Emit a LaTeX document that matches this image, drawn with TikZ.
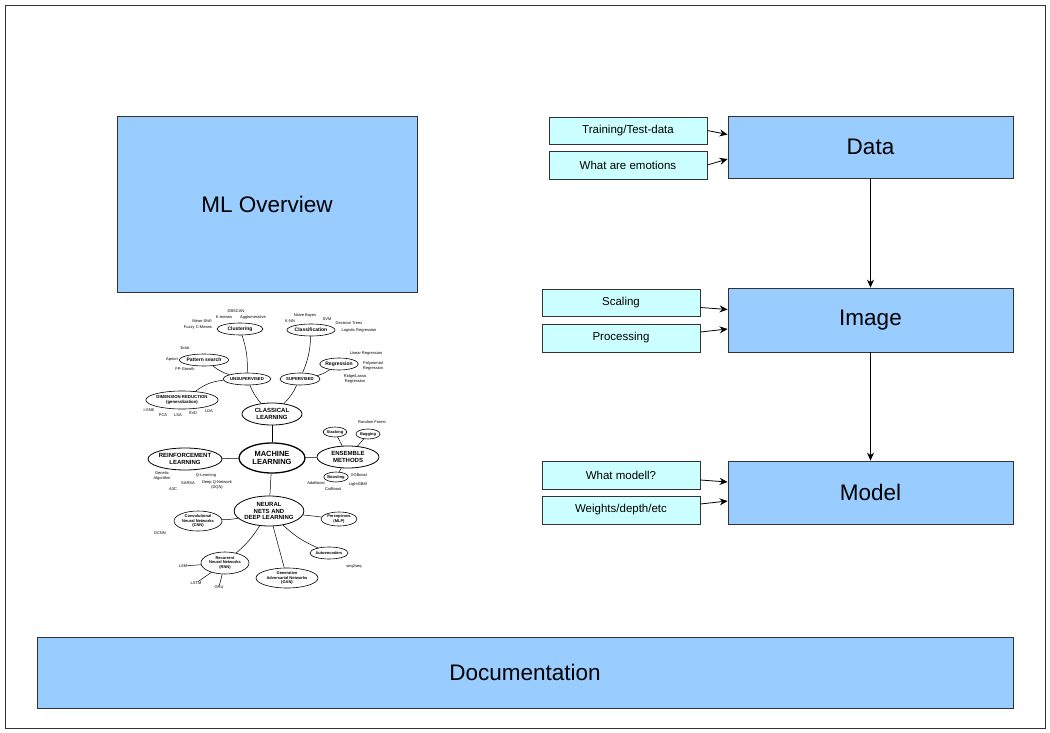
\documentclass[tikz,border=0pt]{standalone}
\usepackage{fontspec}
\setmainfont{Liberation Sans}
\newfontfamily\mmfont{Liberation Sans}
\usetikzlibrary{shapes.geometric,arrows.meta}
\definecolor{bigblue}{HTML}{99CCFF}
\definecolor{smallcyan}{HTML}{CCFFFF}
\definecolor{edgegray}{HTML}{333333}
\tikzset{
  bigbox/.style={draw=edgegray, fill=bigblue, line width=0.8pt, inner sep=0, font=\fontsize{22.5}{26}\selectfont},
  smallbox/.style={draw=edgegray, fill=smallcyan, line width=0.8pt, inner sep=0, font=\fontsize{11.5}{13}\selectfont},
  arr/.style={-{Stealth[length=8pt,width=7pt]}, line width=0.8pt, draw=black},
  mm/.style={draw=black, ellipse, inner sep=0, line width=0.6pt, align=center, font=\mmfont\bfseries\fontsize{5}{5.4}\selectfont},
  mmbig/.style={mm, line width=0.8pt, font=\mmfont\bfseries\fontsize{7.5}{8}\selectfont},
  mmmid/.style={mm, line width=0.8pt, font=\mmfont\bfseries\fontsize{6}{6.4}\selectfont},
  mmsm/.style={mm, font=\mmfont\bfseries\fontsize{4}{4.4}\selectfont},
  mmtight/.style={mm, font=\mmfont\bfseries\fontsize{4.3}{4.6}\selectfont},
  lbl/.style={inner sep=0, align=center, font=\mmfont\fontsize{4}{4.3}\selectfont},
  ml/.style={line width=0.5pt}
}
\begin{document}
\begin{tikzpicture}[x=1pt,y=-1pt]
\useasboundingbox (0,0) rectangle (1050,733);
\node[draw=edgegray, line width=0.6pt, minimum width=1040, minimum height=723, inner sep=0] (frame) at (525,366.5) {};

% right column
\node[bigbox, minimum width=285, minimum height=62] (data) at (870.5,147) {Data};
\node[smallbox, minimum width=158, minimum height=27] (train) at (628,130.5) {Training/Test-data};
\node[smallbox, minimum width=158, minimum height=28] (emo) at (628,165) {What are emotions};
\node[bigbox, minimum width=285, minimum height=64] (image) at (870.5,320) {Image};
\node[smallbox, minimum width=158, minimum height=27] (scal) at (621,302.5) {Scaling};
\node[smallbox, minimum width=158, minimum height=28] (proc) at (621,338) {Processing};
\node[bigbox, minimum width=285, minimum height=63] (model) at (870.5,492.5) {Model};
\node[smallbox, minimum width=158, minimum height=28] (what) at (621,475) {What modell?};
\node[smallbox, minimum width=158, minimum height=28] (wts) at (621,510) {Weights/depth/etc};

\draw[arr] (train.east) -- ([yshift=-4pt]data.west |- train.east);
\draw[arr] (emo.east) -- ([yshift=6pt]data.west |- emo.east);
\draw[arr] ([yshift=-5pt]scal.east) -- ([yshift=-7pt]image.west |- scal.east);
\draw[arr] ([yshift=6pt]proc.east) -- ([yshift=9pt]image.west |- proc.east);
\draw[arr] ([yshift=-5pt]what.east) -- ([yshift=-7pt]model.west |- what.east);
\draw[arr] ([yshift=6pt]wts.east) -- ([yshift=9pt]model.west |- wts.east);
\draw[arr] (data.south) -- (image.north);
\draw[arr] (image.south) -- (model.north);

% left
\node[bigbox, minimum width=300, minimum height=176] (mlo) at (267,204) {ML Overview};
\node[bigbox, minimum width=976, minimum height=71] (doc) at (525,672.5) {Documentation};

% mind map
\node[mmbig, line width=1.3pt, minimum width=66, minimum height=30] (ml) at (272,458) {MACHINE\\LEARNING};
\node[mmmid, minimum width=60, minimum height=22] (cl) at (272,414) {CLASSICAL\\LEARNING};
\node[mmtight, minimum width=42, minimum height=12] (uns) at (247,379) {UNSUPERVISED};
\node[mmtight, minimum width=40, minimum height=12] (sup) at (300,379) {SUPERVISED};
\node[mm, minimum width=46, minimum height=12] (clu) at (240,329) {Clustering};
\node[mm, minimum width=44, minimum height=12] (pat) at (204,360) {Pattern search};
\node[mmtight, minimum width=72, minimum height=18] (dim) at (182,400) {DIMENSION REDUCTION\\(generalization)};
\node[mm, minimum width=48, minimum height=12] (cla) at (311,330) {Classification};
\node[mm, minimum width=38, minimum height=12] (reg) at (339,364) {Regression};
\node[mmmid, minimum width=70, minimum height=22] (rl) at (185,459) {REINFORCEMENT\\LEARNING};
\node[mmmid, minimum width=62, minimum height=22] (ens) at (348,457) {ENSEMBLE\\METHODS};
\node[mmsm, minimum width=22, minimum height=10] (stk) at (335,432) {Stacking};
\node[mmsm, minimum width=24, minimum height=10] (bag) at (368,434) {Bagging};
\node[mmsm, minimum width=24, minimum height=10] (boo) at (336,477) {Boosting};
\node[mmmid, minimum width=62, minimum height=30] (nn) at (269,511) {NEURAL\\NETS AND\\DEEP LEARNING};
\node[mmsm, minimum width=48, minimum height=20] (cnn) at (198,521) {Convolutional\\Neural Networks\\(CNN)};
\node[mmsm, minimum width=36, minimum height=14] (mlp) at (339,519) {Perceptrons\\(MLP)};
\node[mmsm, minimum width=48, minimum height=22] (rnn) at (225,563) {Recurrent\\Neural Networks\\(RNN)};
\node[mmsm, minimum width=38, minimum height=12] (aut) at (329,553) {Autoencoders};
\node[mmsm, minimum width=62, minimum height=20] (gan) at (287,578) {Generative\\Adversarial Networks\\(GAN)};

% labels
\node[lbl] (l1) at (236,311) {DBSCAN};
\node[lbl] (l2) at (224,317) {K-means};
\node[lbl] (l3) at (253,317) {Agglomerative};
\node[lbl] (l4) at (202,321) {Mean-Shift};
\node[lbl] (l5) at (198,328) {Fuzzy C-Means};
\node[lbl] (l6) at (185,348) {Eclat};
\node[lbl] (l7) at (172,359) {Apriori};
\node[lbl] (l8) at (185,369) {FP-Growth};
\node[lbl] (l9) at (149,410) {t-SNE};
\node[lbl] (l10) at (163,415) {PCA};
\node[lbl] (l11) at (178,415) {LSA};
\node[lbl] (l12) at (193,413) {SVD};
\node[lbl] (l13) at (209,411) {LDA};
\node[lbl] (l14) at (305,315) {Naive Bayes};
\node[lbl] (l15) at (290,321) {K-NN};
\node[lbl] (l16) at (327,319) {SVM};
\node[lbl] (l17) at (349,323) {Decision Trees};
\node[lbl] (l18) at (359,330) {Logistic Regression};
\node[lbl] (l19) at (366,353) {Linear Regression};
\node[lbl] (l20) at (373,366) {Polynomial\\Regression};
\node[lbl] (l21) at (355,379) {Ridge/Lasso\\Regression};
\node[lbl] (l22) at (162,476) {Genetic\\Algorithm};
\node[lbl] (l23) at (206,475) {Q-Learning};
\node[lbl] (l24) at (188,483) {SARSA};
\node[lbl] (l25) at (217,485) {Deep Q-Network\\(DQN)};
\node[lbl] (l26) at (173,489) {A3C};
\node[lbl] (l27) at (372,422) {Random Forest};
\node[lbl] (l28) at (359,475) {XGBoost};
\node[lbl] (l29) at (316,483) {AdaBoost};
\node[lbl] (l30) at (358,484) {LightGBM};
\node[lbl] (l31) at (333,489) {CatBoost};
\node[lbl] (l32) at (160,533) {DCNN};
\node[lbl] (l33) at (183,566) {LSM};
\node[lbl] (l34) at (196,583) {LSTM};
\node[lbl] (l35) at (219,587) {GRU};
\node[lbl] (l36) at (354,567) {seq2seq};

% mind map connectors
\draw[ml] (clu) to[bend left=10] (uns);
\draw[ml] (pat) to[bend right=10] (uns);
\draw[ml] (dim) to[bend left=15] (uns);
\draw[ml] (uns) to[bend right=10] (cl);
\draw[ml] (cla) to[bend left=10] (sup);
\draw[ml] (reg) to[bend left=10] (sup);
\draw[ml] (sup) to[bend left=10] (cl);
\draw[ml] (cl) -- (ml);
\draw[ml] (ml) -- (rl);
\draw[ml] (ml) -- (ens);
\draw[ml] (ens) -- (stk);
\draw[ml] (ens) -- (bag);
\draw[ml] (ens) -- (boo);
\draw[ml] (ml) -- (nn);
\draw[ml] (nn) to[bend left=5] (cnn);
\draw[ml] (nn) -- (mlp);
\draw[ml] (nn) to[bend left=8] (rnn);
\draw[ml] (nn) to[bend right=10] (aut);
\draw[ml] (nn) -- (gan);
\draw[ml] (rnn) -- (l33);
\draw[ml] (rnn) -- (l34);
\draw[ml] (rnn) -- (l35);
\end{tikzpicture}
\end{document}
